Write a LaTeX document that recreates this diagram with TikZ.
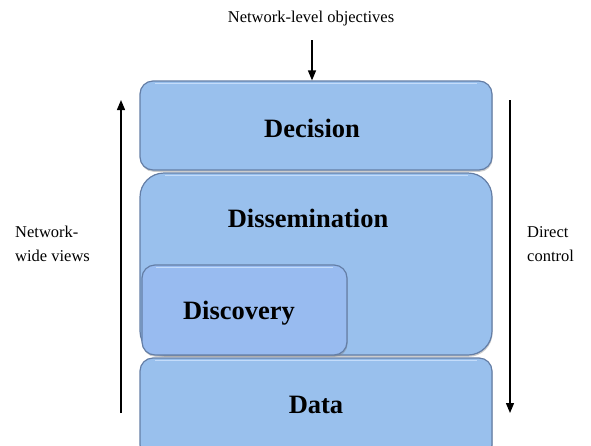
\documentclass[tikz,border=0pt]{standalone}
\usepackage{fontspec}
\setmainfont{Liberation Serif}
\usetikzlibrary{arrows.meta,shadows}
\definecolor{boxfill}{RGB}{153,192,237}
\definecolor{discfill}{RGB}{152,187,240}
\definecolor{boxedge}{RGB}{100,126,166}
\definecolor{boxhi}{RGB}{196,220,250}
\begin{document}
\begin{tikzpicture}[x=1pt,y=-1pt,
  layerbox/.style={draw=boxedge, line width=1.2pt, fill=boxfill, rounded corners=13pt,
     drop shadow={opacity=0.4, shadow xshift=0.6pt, shadow yshift=-1.8pt}},
  boldlabel/.style={font=\fontsize{26.5}{30}\selectfont\bfseries, inner sep=0pt},
  plainlabel/.style={font=\fontsize{16.5}{24}\selectfont, inner sep=0pt, align=left},
  arr/.style={line width=1.3pt, -{Triangle[length=10pt,width=8pt]}}]
\useasboundingbox (0,0) rectangle (591,445);
\clip (0,0) rectangle (591,445);
% boxes
\node[layerbox, minimum width=352pt, minimum height=89pt] (decision) at (316,125.5) {};
\node[layerbox, rounded corners=24pt, minimum width=352pt, minimum height=182pt] (dissem) at (316,264) {};
\node[layerbox, fill=discfill, rounded corners=13pt, minimum width=205pt, minimum height=90pt] (discovery) at (244.5,310) {};
\node[layerbox, minimum width=352pt, minimum height=100pt] (data) at (316,408) {};
% highlights
\draw[boxhi, line width=1pt] (155,83) -- (477,83);
\draw[boxhi, line width=1pt] (165,175.5) -- (468,175.5);
\draw[boxhi, line width=1pt] (156,267.5) -- (333,267.5);
\draw[boxhi, line width=1pt] (155,360.5) -- (477,360.5);
% labels
\node[boldlabel] (tdecision) at (312,128) {Decision};
\node[boldlabel] (tdissem) at (308,218) {Dissemination};
\node[boldlabel] (tdiscovery) at (239,313) {Discovery};
\node[boldlabel] (tdata) at (316,405) {Data};
% objectives
\node[plainlabel] (obj) at (311,19) {Network-level objectives};
\draw[arr] (312,40) -- (decision.north -| 312,0);
% side arrows
\coordinate (lbot) at (121,413);
\coordinate (ltop) at (121,100);
\coordinate (rtop) at (510,100);
\coordinate (rbot) at (510,413);
\draw[arr] (lbot) -- (ltop);
\draw[arr] (rtop) -- (rbot);
\node[plainlabel, anchor=west] (views) at (15,244) {Network-\\wide views};
\node[plainlabel, anchor=west] (control) at (527,244) {Direct\\control};
\end{tikzpicture}
\end{document}
